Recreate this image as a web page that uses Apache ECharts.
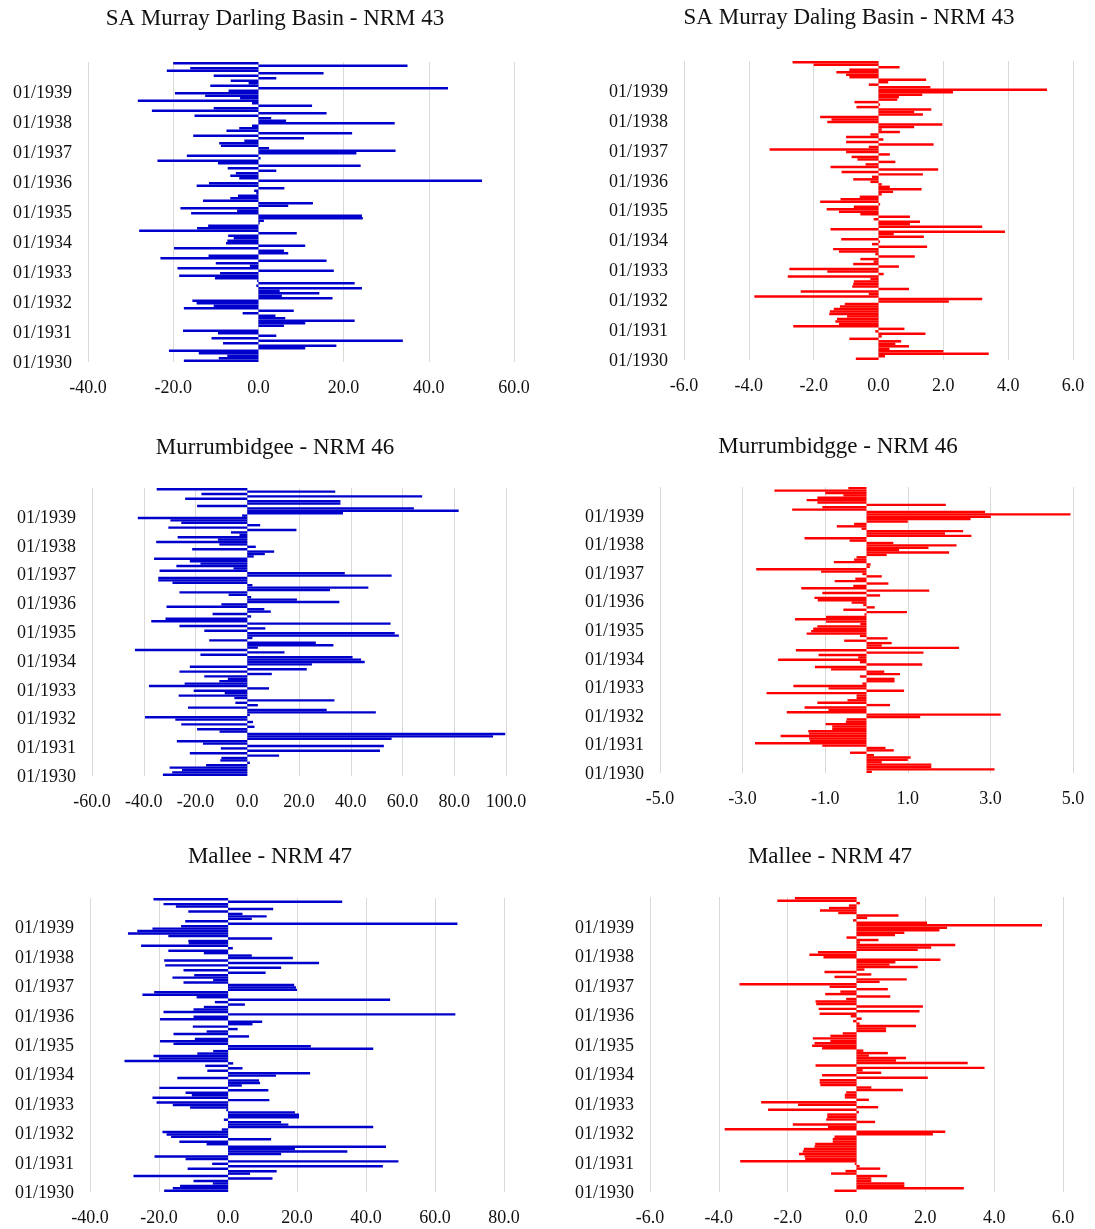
<!DOCTYPE html>
<html>
<head>
<meta charset="utf-8">
<script src="https://cdn.jsdelivr.net/npm/echarts@6/dist/echarts.min.js"></script>
<style>
  html, body { margin: 0; background: #fff; }
  #main { width: 1095px; height: 1229px; }
</style>
</head>
<body>
<div id="main"></div>
<script>
// monthly values, newest first: 12/1939 at index 0 down to 01/1930 at index 119
const murrayBlue = [
  -20, 35, -16, -21.5, 15.3, -10.5, 4.2, -6.5, -2.3, -11.3,
  44.5, -7, -19.6, -12.5, -4.3, -28.3, -1.5, 12.6, -10.5, -25,
  16, -15, 3, 6.5, 32, -1.5, -4.5, -7.5, 22, -15.3,
  10.7, -3.3, -9.2, -8.8, 2.5, 32.2, 23, -16.8, 0.5, -23.7,
  -9.5, 24, -7.2, 4.2, -5.3, -6.6, -4.5, 52.5, -11.6, -14.5,
  6.1, -1, -0.5, -4.8, -6.6, -13, 12.8, 7, -18.3, -5,
  -15.8, 24.3, 24.5, 1.3, 0.3, -11.8, -14.4, -28, 9, -7.1,
  -5.8, -7.3, -7.6, 11, -19.8, 6, 7, -11.7, -23, 16,
  -10, -2, -19, 17.7, -9, -18.6, -10.2, -0.3, 22.6, -0.5,
  24.3, 5, 14.3, 5.5, 17.4, -15.5, -14.5, -10.5, -17.5, 8.3,
  -3.7, 4, 6.3, 22.6, 11, 6, 0, -17.7, -9.5, 4.2,
  -11, 33.9, -8.3, 18.3, 11, -21, -14, -7.3, -9.3, -17.5
]
const murrayRed = [
  -2.65, -2.0, 0.65, -0.9, -1.3, -1.0, -0.9, 1.47, 0.3, -0.3,
  1.6, 5.2, 2.3, 1.35, 0.63, 0.58, -0.74, 0.05, -0.68, 1.63,
  1.1, 1.37, -1.8, -1.45, -1.58, 1.97, 1.1, 0.1, 0.66, -0.25,
  -1.0, 0.15, -1.0, 1.7, -0.3, -3.36, -1.0, 0.35, -0.83, -0.65,
  0.52, -0.4, -1.48, 1.84, -1.14, 1.37, -0.2, -0.78, -0.25, 0.1,
  0.35, 1.33, 0.45, 0.1, -0.58, -1.17, -1.8, 0.05, -0.76, -1.6,
  -1.22, -0.56, 0.97, -0.15, 1.28, 0.97, 3.2, -1.48, 3.9, 0.47,
  1.4, -1.15, 0.05, -0.2, 1.5, -1.4, -1.22, -0.1, 1.12, -0.56,
  -0.15, -0.78, 0.63, -2.75, -1.58, 0.16, -2.8, -0.25, -0.76, -0.78,
  -0.81, 0.94, -2.4, -0.3, -3.83, 3.2, 2.17, -1.04, -1.19, -1.38,
  -1.5, -1.52, -0.97, -1.28, -1.33, -1.22, -2.63, 0.8, -0.1, 1.45,
  0.1, -0.9, 0.7, 0.52, 0.94, 0.34, 2.0, 3.4, 0.2, -0.7
]
const murrumBlue = [
  -35, 34, -17.7, 67.6, -24, 36, 36, -19.4, 64.4, 81.7,
  37, -2, -42.3, -29.7, -25.5, 5, -30.5, 19, -6.3, -3,
  -26.9, -11.3, -35.2, -10.8, 3.3, -21.3, 10.4, 6.8, 2.5, -36,
  -22.2, -18.1, -27.4, -5.3, -33.9, 37.7, 55.8, -34.4, -34.4, -28.9,
  2, 46.8, 32, -26.2, -7.2, 1.5, 19.2, 35.6, -10, -31.2,
  6.6, 9.1, -13.4, 1.5, -31.6, -37.1, 55.4, -26.2, 7, -16.6,
  57, 58.6, 2, -14.7, 26.5, 33.3, 4.1, -43.4, 14.4, -18.1,
  40.7, 44, 45.4, 25, -22.2, 23, -26.2, 9.5, -16.6, -7.5,
  -10.8, -24.2, -38, 8.4, -20.7, -8.7, -26.5, -5, 33.7, -4.6,
  4.1, -22.9, 30.7, 49.7, 1, -39.5, -27.8, 2.2, -25.5, 2.8,
  -19.4, -10.7, 99.7, 95, 55.8, -27.2, -17.1, 52.8, -10.2, 51.3,
  -22.2, 12.3, -10, -10.4, 1, -15.9, -30, -25.2, -29, -32.6
]
const murrumRed = [
  -0.44, -2.23, -1.0, -0.56, -1.19, -1.45, -1.19, 1.92, -1.07, -1.8,
  2.87, 4.94, 3.01, 2.52, 1.0, -0.3, -0.72, -0.12, 2.34, 1.9,
  2.54, -1.5, -0.41, 0.65, 2.18, 1.5, 0.79, 2.0, 0.49, -0.24,
  -0.3, -0.79, 0.1, 0.08, -2.67, -1.1, -0.1, 0.37, -0.27, -0.77,
  0.53, -0.32, -1.58, 1.52, -1.07, 0.33, -1.26, -1.18, -0.36, -0.08,
  0.2, -0.56, 0.98, -0.05, -0.98, -1.73, -0.98, -0.15, -1.19, -1.29,
  -1.34, -1.45, -0.16, 0.51, -0.54, 0.61, 0.37, 2.24, -1.71, 1.38,
  -1.16, -0.2, -2.14, -0.16, 1.35, -1.25, -0.86, 0.43, 0.81, -0.16,
  0.68, 0.68, -0.1, -1.77, -0.92, 0.91, -2.42, -0.24, -0.24, -0.46,
  -1.19, 0.57, -1.5, -0.92, -1.93, 3.25, 1.3, -0.48, -0.5, -0.99,
  -0.83, -0.83, -1.41, -1.39, -2.08, -1.39, -1.37, -2.7, -1.07, 0.46,
  0.66, -0.4, 0.18, 1.07, 1.0, 0.37, 1.57, 1.57, 3.1, 0.13
]
const malleeBlue = [
  -21.6, 33.1, -18.7, -15.1, 13.1, -11.5, 4.2, 11.2, 6.9, -12.4,
  66.5, -13.6, -21.9, -26.3, -29, -17.3, 12.8, -11.5, -11.4, -25.2,
  1.4, -17.3, -7, 6.9, 18.8, -18.5, 26.4, -18.2, 15.4, -12.9,
  10.9, -9.8, -16.1, -4.3, -12.9, 19.2, 19.7, 20, -21.4, -24.8,
  -9.1, 47, -3.8, 4.9, -7, -10, -18.7, 65.9, -10, -19.7,
  9.9, 7.1, -10.2, 2.8, -6.2, -15.8, 6.1, -9.6, -19.7, -15.8,
  24, 42.1, -4.3, -8.9, -21.6, -20, -30, 1.5, -6.6, 4.2,
  -6, 23.8, 13.9, -14.7, 9, 9.3, 4, -19.9, 11.7, -12.3,
  -10.5, -21.9, 12, -20.7, -16, -11, -0.5, 19.4, 20.6, 20.6,
  -1.2, 15.4, 17.5, 42.1, -1.8, -19, -17.8, -16.5, 12.5, -14.1,
  -6.2, 45.8, 19.4, 34.6, 15.4, -21.3, -12.3, 49.4, -4.6, 44.9,
  -11.7, 14.1, 6.4, -27.4, 12.9, -10, -4.4, -13.9, -16, -18.5
]
const malleeRed = [
  -1.79, -2.3, 0.1, -0.22, -0.8, -1.06, -0.53, 1.22, 0.31, -0.1,
  2.05, 5.39, 2.63, 2.41, 1.39, 1.12, -0.29, 0.64, 0.1, 2.87,
  2.17, 1.78, -1.12, -1.37, -0.96, 2.44, 1.13, 0.96, 1.78, 0.23,
  -0.93, 0.43, -0.64, 1.46, 0.67, -3.4, -0.78, 0.91, -0.47, -0.91,
  0.98, -0.3, -1.19, -1.17, 1.93, -1.1, 1.83, -1.07, -0.17, 0.15,
  -0.1, 0.09, 1.73, 0.86, 0.86, -0.4, -0.76, -1.27, -0.76, -1.22,
  -1.29, -1.0, 0.2, 0.91, 0.36, 1.44, 1.15, 3.23, -1.19, 3.72,
  0.18, 0.72, -1.0, 2.07, -1.07, -1.07, -1.05, 0.43, 1.35, -0.3,
  -0.34, -0.34, 0.36, -2.77, -1.7, 0.63, -2.57, 0.07, -0.85, -0.85,
  -0.88, 0.54, -1.85, -0.83, -3.83, 2.58, 2.22, -0.64, -0.69, -0.69,
  -1.2, -1.22, -1.53, -1.56, -1.67, -1.51, -1.49, -3.38, -0.05, 0.09,
  0.69, -0.32, -0.74, 0.89, 0.43, 0.43, 1.39, 1.39, 3.12, -0.64
]

// x axis ranges [min, max, step]
const murrayBlueAxis = [-40, 60, 20]
const murrayRedAxis = [-6, 6, 2]
const murrumBlueAxis = [-60, 100, 20]
const murrumRedAxis = [-5, 5, 2]
const malleeBlueAxis = [-40, 80, 20]
const malleeRedAxis = [-6, 6, 2]

// month categories, newest first
const months = []
for (let y = 1939; y >= 1930; y--) {
  for (let m = 12; m >= 1; m--) {
    months.push(String(m).padStart(2, '0') + '/' + y)
  }
}

const BLUE = '#0000cc'
const RED = '#ff0000'
const FONT = 'Liberation Serif'
const TEXT = '#111'

const panels = [
  { title: 'SA Murray Darling Basin - NRM 43', data: murrayBlue, axis: murrayBlueAxis, color: BLUE,
    grid: { left: 88, top: 62, width: 426, height: 300 }, at: [275, 19] },
  { title: 'SA Murray Daling Basin - NRM 43', data: murrayRed, axis: murrayRedAxis, color: RED,
    grid: { left: 684, top: 61, width: 389, height: 299 }, at: [849, 18] },
  { title: 'Murrumbidgee - NRM 46', data: murrumBlue, axis: murrumBlueAxis, color: BLUE,
    grid: { left: 92, top: 488, width: 414, height: 288 }, at: [275, 448] },
  { title: 'Murrumbidgge - NRM 46', data: murrumRed, axis: murrumRedAxis, color: RED,
    grid: { left: 660, top: 487, width: 413, height: 286 }, at: [838, 447] },
  { title: 'Mallee - NRM 47', data: malleeBlue, axis: malleeBlueAxis, color: BLUE,
    grid: { left: 90, top: 898, width: 414, height: 294 }, at: [270, 857] },
  { title: 'Mallee - NRM 47', data: malleeRed, axis: malleeRedAxis, color: RED,
    grid: { left: 650, top: 897, width: 413, height: 295 }, at: [830, 857] }
]

const myChart = echarts.init(document.getElementById('main'))

const option = {
  animation: false,
  graphic: panels.map(p => ({
    type: 'text',
    x: p.at[0],
    y: p.at[1],
    style: {
      text: p.title,
      font: '23px "' + FONT + '"',
      fill: TEXT,
      align: 'center',
      verticalAlign: 'middle',
      textAlign: 'center',
      textVerticalAlign: 'middle'
    }
  })),
  grid: panels.map(p => Object.assign({ containLabel: false }, p.grid)),
  xAxis: panels.map((p, i) => ({
    type: 'value',
    gridIndex: i,
    min: p.axis[0],
    max: p.axis[1],
    interval: p.axis[2],
    axisLine: { show: false },
    axisTick: { show: false },
    splitLine: { show: true, lineStyle: { color: '#d9d9d9', width: 1 } },
    axisLabel: {
      fontFamily: FONT,
      fontSize: 18,
      color: TEXT,
      margin: 17,
      formatter: v => v.toFixed(1)
    }
  })),
  yAxis: panels.map((p, i) => ({
    type: 'category',
    gridIndex: i,
    data: months,
    inverse: true,
    axisLine: { show: false, onZero: false },
    axisTick: { show: false },
    splitLine: { show: false },
    axisLabel: {
      interval: (idx, val) => val.startsWith('01/'),
      formatter: v => '{m|' + v + '}',
      rich: {
        m: { fontFamily: FONT, fontSize: 18, color: TEXT, padding: [5, 0, 0, 0] }
      },
      margin: 16
    }
  })),
  series: panels.map((p, i) => ({
    type: 'bar',
    xAxisIndex: i,
    yAxisIndex: i,
    data: p.data,
    barCategoryGap: '0%',
    itemStyle: { color: p.color },
    silent: true
  }))
}

myChart.setOption(option)
</script>
</body>
</html>
